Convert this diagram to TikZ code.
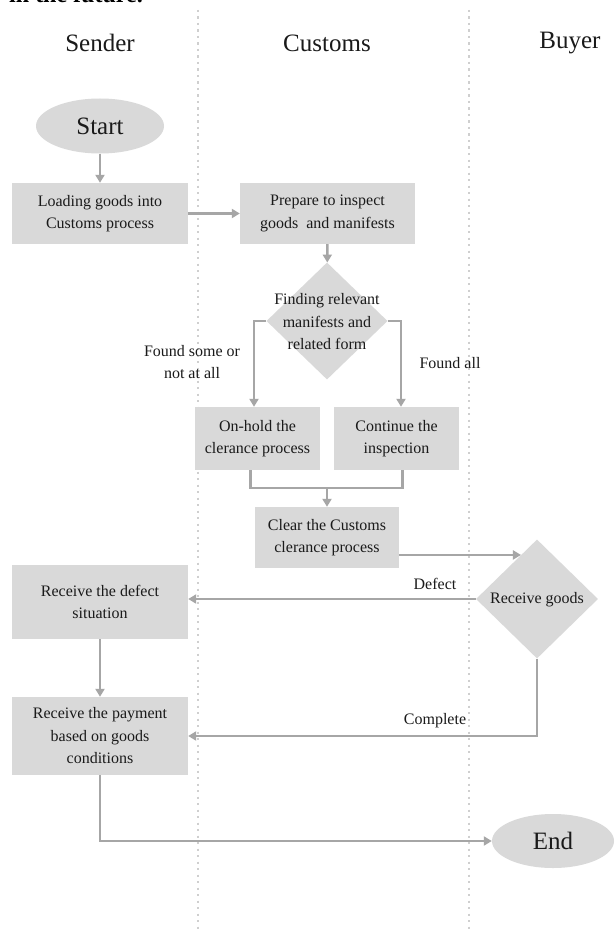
\documentclass[tikz,border=0pt]{standalone}
\usepackage{fontspec}
\setmainfont{Liberation Serif}
\usetikzlibrary{shapes.geometric,arrows.meta,calc}

\definecolor{boxgray}{HTML}{D9D9D9}
\definecolor{linegray}{HTML}{A6A6A6}
\definecolor{lanegray}{HTML}{CFCFCF}
\definecolor{ink}{HTML}{1A1A1A}

\begin{document}
\begin{tikzpicture}[x=1pt,y=-1pt,
  every node/.style={text=ink, inner sep=0pt, font=\fontsize{16}{22.5}\selectfont},
  procbox/.style={rectangle, fill=boxgray, align=center},
  decision/.style={diamond, fill=boxgray, aspect=1},
  terminal/.style={ellipse, fill=boxgray, font=\fontsize{25}{28}\selectfont},
  header/.style={font=\fontsize{25}{28}\selectfont},
  flowlabel/.style={align=center},
  lane/.style={lanegray, line width=2.3pt, dash pattern=on 2.3pt off 4.2pt},
  conn/.style={linegray, line width=2.4pt},
  arr/.style={conn, -{Triangle[length=8pt,width=9pt]}}]

% page frame
\path[use as bounding box, fill=white] (0,0) rectangle (615,931);
\clip (0,0) rectangle (615,931);

% tail of the preceding paragraph, cut by the page edge
\node[anchor=base east, font=\fontsize{24}{26}\selectfont\bfseries, text=black] (prev) at (143,3) {in the future.};

% swimlane separators
\draw[lane] (198,10) -- (198,931);
\draw[lane] (469,10) -- (469,931);

% lane titles
\node[header] (hSender)  at (100,43) {Sender};
\node[header] (hCustoms) at (327,43) {Customs};
\node[header] (hBuyer)   at (570,43) {Buyer};

% terminals
\node[terminal, minimum width=128pt, minimum height=55pt] (start) at (100,126) {Start};
\node[terminal, minimum width=122pt, minimum height=54pt] (end) at (553,841) {End};

% process boxes
\node[procbox, minimum width=176pt, minimum height=61pt] (load) at (100,213.5) {Loading goods into\\Customs process};
\node[procbox, minimum width=175pt, minimum height=61pt] (prep) at (327.5,213.5) {Prepare to inspect\\goods\ \ and manifests};
\node[procbox, minimum width=125pt, minimum height=63pt] (hold) at (257.5,438.5) {On-hold the\\clerance process};
\node[procbox, minimum width=125pt, minimum height=63pt] (cont) at (396.5,438.5) {Continue the\\inspection};
\node[procbox, minimum width=144pt, minimum height=61pt] (clear) at (327,537.5) {Clear the Customs\\clerance process};
\node[procbox, minimum width=176pt, minimum height=74pt] (defect) at (100,602) {Receive the defect\\situation};
\node[procbox, minimum width=176pt, minimum height=78pt] (pay) at (100,736) {Receive the payment\\based on goods\\conditions};

% decisions
\node[decision, minimum width=121pt, minimum height=117pt] (dec) at (327,321) {};
\node[flowlabel] (decText) at (327,322) {Finding relevant\\manifests and\\related form};
\node[decision, minimum width=122pt, minimum height=119pt] (rg) at (537,599) {};
\node (rgText) at (537,600) {Receive goods};

% connectors
\draw[arr] (start) -- (load);
\draw[arr] (load) -- (prep);
\draw[arr] (prep) -- (dec);
\draw[arr] (dec.west) -| ([xshift=-3.5pt]hold.north);
\draw[arr] (dec.east) -| ([xshift=4.5pt]cont.north);
\coordinate (join) at (327,488);
\draw[conn] ([xshift=-7pt]hold.south) |- (join) -| ([xshift=6pt]cont.south);
\draw[arr] (join) -- (clear);
\draw[arr] (clear.east |- rg.110) -- (rg.110);
\draw[arr] (rg.west) -- (rg.west -| defect.east);
\draw[arr] (defect) -- (pay);
\draw[arr] (rg.south) |- (pay.east);
\draw[arr] (pay.south) |- (end.west);

% branch labels
\node[flowlabel] (lSome) at (192,362) {Found some or\\not at all};
\node (lAll) at (450,363) {Found all};
\node (lDefect) at (435,584) {Defect};
\node (lComplete) at (435,721) {Complete};

\end{tikzpicture}
\end{document}
